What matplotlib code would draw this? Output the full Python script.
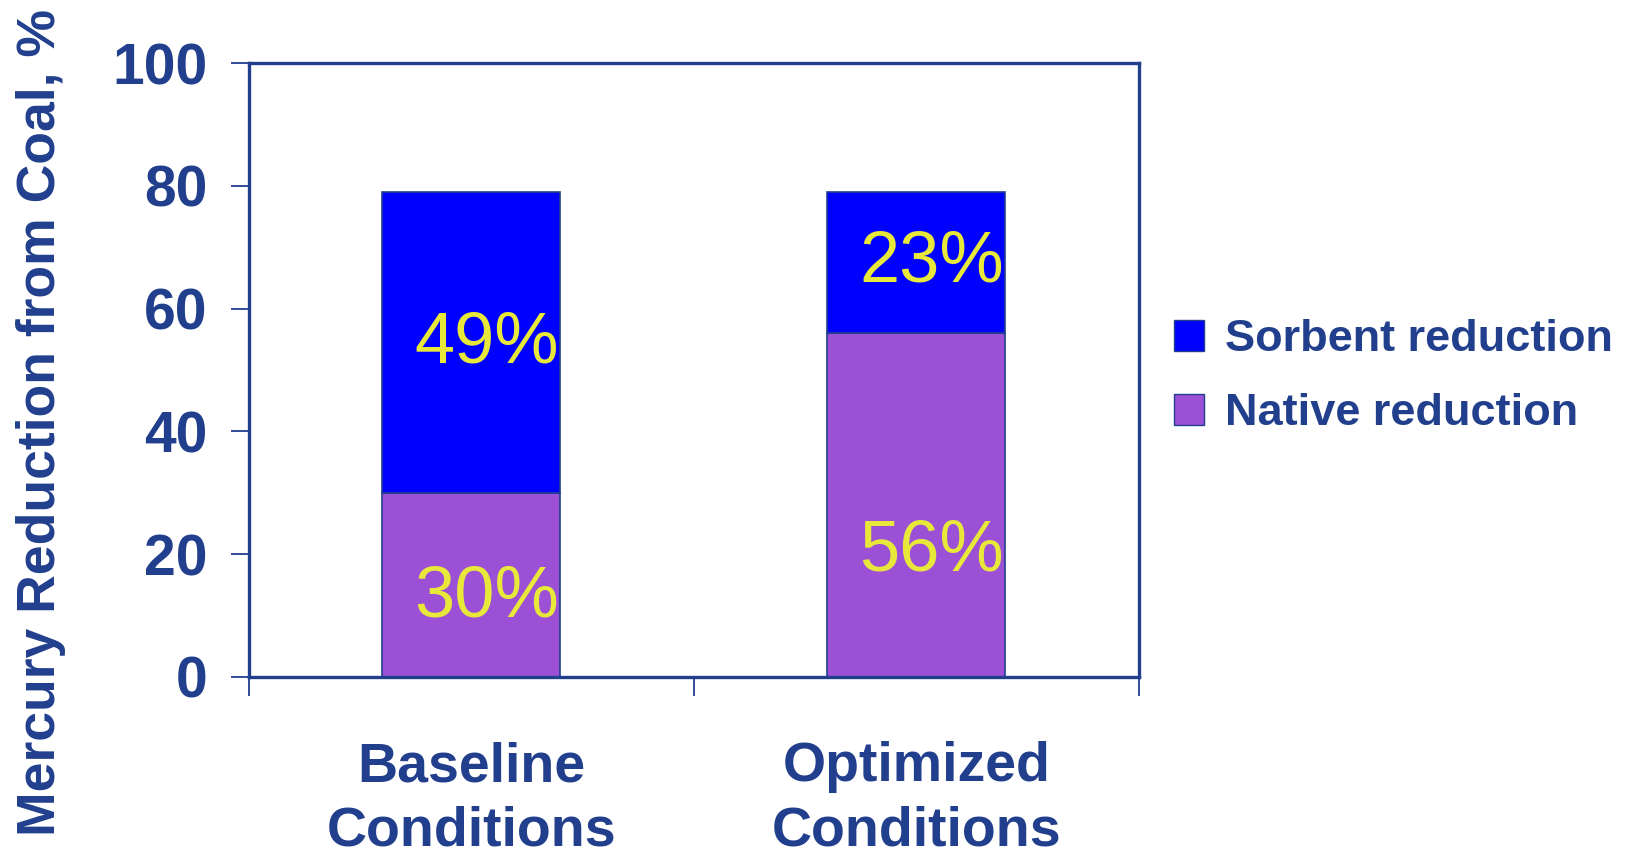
import matplotlib
matplotlib.use("Agg")
import matplotlib.pyplot as plt
import matplotlib.patches as mpatches
import numpy as np

plt.rcParams["font.family"] = ["Liberation Sans", "DejaVu Sans"]

# ── Data ─────────────────────────────────────────────────────────────────────
conditions = ["Baseline\nConditions", "Optimized\nConditions"]
native = [30, 56]
sorbent = [49, 23]
# label heights inside the bars (in % units)
native_label_y = [12.8, 20.3]
sorbent_label_y = [54.3, 67.4]

NAVY = "#213F8D"
BLUE = "#0000FF"
PURPLE = "#9B50D6"
YELLOW = "#E8E83A"

fig = plt.figure(figsize=(16.27, 8.60), dpi=100)
ax = fig.add_axes([0.153, 0.2128, 0.547, 0.7139])

x = np.arange(len(conditions))
ax.bar(x, native, 0.4, color=PURPLE, edgecolor=NAVY, linewidth=1.2,
       label="Native reduction", zorder=2)
ax.bar(x, sorbent, 0.4, bottom=native, color=BLUE, edgecolor=NAVY,
       linewidth=1.2, label="Sorbent reduction", zorder=2)

for i in range(len(x)):
    ax.text(x[i] + 0.035, sorbent_label_y[i], f"{sorbent[i]}%", color=YELLOW,
            fontsize=52, ha="center", va="center", zorder=3)
    ax.text(x[i] + 0.035, native_label_y[i], f"{native[i]}%", color=YELLOW,
            fontsize=52, ha="center", va="center", zorder=3)

ax.set_xlim(-0.5, 1.5)
ax.set_ylim(0, 100)
ax.set_yticks([0, 20, 40, 60, 80, 100])

# category labels at bar centres, tick marks between categories
ax.set_xticks([-0.5, 0.5, 1.5])
ax.set_xticklabels([])
ax.tick_params(axis="x", direction="out", length=14, width=1.3, color=NAVY)
for xi, lab in zip(x, conditions):
    ax.text(xi, -10.5, lab, transform=ax.transData, ha="center", va="top",
            fontsize=40, fontweight="bold", color=NAVY, linespacing=1.3,
            clip_on=False)

ax.tick_params(axis="y", direction="out", length=13, width=1.3, color=NAVY,
               pad=17, labelsize=41, labelcolor=NAVY)
for t in ax.get_yticklabels():
    t.set_fontweight("bold")

for sp in ax.spines.values():
    sp.set_color(NAVY)
    sp.set_linewidth(2.4)

fig.text(0.025, 0.509, "Mercury Reduction from Coal, %", rotation=90,
         ha="center", va="center", fontsize=38.5, fontweight="bold", color=NAVY)

# legend: sorbent first, then native
handles = [mpatches.Patch(facecolor=BLUE, edgecolor=NAVY, label="Sorbent reduction"),
           mpatches.Patch(facecolor=PURPLE, edgecolor=NAVY, label="Native reduction")]
leg = fig.legend(handles=handles, loc="center left",
                 bbox_to_anchor=(0.7075, 0.562), frameon=False,
                 fontsize=32.5, handlelength=0.68, handleheight=0.68,
                 handletextpad=0.45, labelspacing=0.72, borderpad=0.0)
for t in leg.get_texts():
    t.set_color(NAVY)
    t.set_fontweight("bold")

fig.savefig("out.png", dpi=100)
